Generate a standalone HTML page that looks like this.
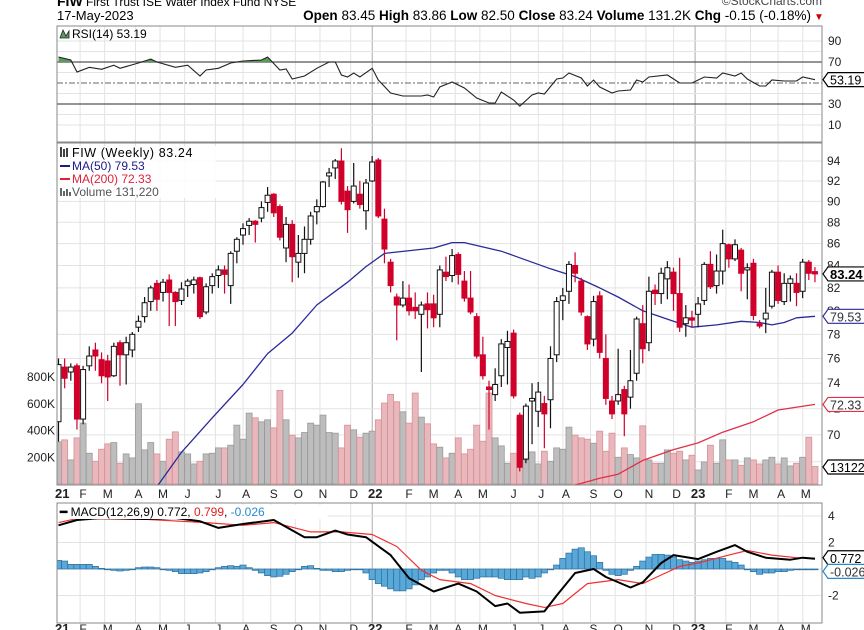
<!DOCTYPE html>
<html><head><meta charset="utf-8"><style>
html,body{margin:0;padding:0;background:#fff;width:864px;height:630px;overflow:hidden}
svg{display:block;font-family:"Liberation Sans",sans-serif}
</style></head><body>
<svg id="c" width="864" height="630" viewBox="0 0 864 630" xmlns="http://www.w3.org/2000/svg">
<g>
<text x="57" y="6" font-size="14" font-weight="bold" fill="#000">FIW</text>
<text x="86" y="6" font-size="12" fill="#000">First Trust ISE Water Index Fund NYSE</text>
<text x="822" y="5" font-size="12" fill="#444" text-anchor="end">©StockCharts.com</text>
<text x="57" y="20" font-size="13" fill="#000">17-May-2023</text>
<text x="811" y="20" font-size="13.5" fill="#000" text-anchor="end"><tspan font-weight="bold">Open</tspan> 83.45 <tspan font-weight="bold">High</tspan> 83.86 <tspan font-weight="bold">Low</tspan> 82.50 <tspan font-weight="bold">Close</tspan> 83.24 <tspan font-weight="bold">Volume</tspan> 131.2K <tspan font-weight="bold">Chg</tspan> -0.15 (-0.18%)</text>
<text x="814" y="20" font-size="10" fill="#c00">▼</text>
</g>
<g id="grid"></g>
<g id="rsi"></g>
<g id="main"></g>
<g id="macd"></g>
<g id="axes"></g>
</svg>
<script>
// ---------- data ----------
const opens=[71.0,75.3,74.9,75.4,71.2,75.4,76.7,75.9,75.8,74.6,77.3,76.3,76.7,78.6,79.5,80.8,82.4,81.6,82.7,81.6,80.9,82.2,82.3,82.9,79.9,82.2,83.1,83.6,82.2,85.3,86.8,87.7,88.1,88.4,89.9,90.7,89.5,85.6,87.8,84.3,85.1,86.4,89.0,89.5,92.5,93.3,94.0,91.0,90.0,90.7,89.1,92.0,94.1,88.3,84.3,81.2,80.5,81.1,80.3,79.7,80.6,80.6,79.7,83.4,83.1,85.0,82.6,81.1,79.5,76.3,73.7,73.1,74.6,76.9,78.1,71.5,68.2,72.6,71.8,72.4,72.7,76.3,80.9,81.7,84.0,82.6,79.5,77.6,81.3,76.0,72.6,72.6,73.5,72.9,74.8,78.9,77.3,81.8,81.5,82.8,83.4,81.5,78.9,79.4,79.7,80.9,84.1,82.2,83.5,85.9,84.6,85.4,83.6,84.2,78.9,79.3,80.4,83.4,80.8,82.4,82.4,81.7,84.3,83.45];
const highs=[76.0,76.0,75.6,75.6,75.4,77.0,77.3,76.5,76.3,77.3,77.5,77.8,78.2,79.6,81.2,82.2,82.7,82.8,83.2,81.7,82.5,82.8,83.0,83.0,82.4,83.3,84.0,84.0,85.3,86.6,87.9,88.4,88.2,90.0,91.4,90.8,89.7,88.5,88.2,86.8,87.6,89.0,90.2,92.0,93.3,94.2,95.3,91.5,93.8,92.0,92.2,94.5,94.3,89.3,84.6,81.5,82.6,82.3,81.6,80.8,81.6,81.4,84.0,84.8,85.5,85.2,83.5,83.5,79.8,77.8,74.2,75.2,77.6,78.3,78.4,71.7,72.4,74.0,74.1,73.0,77.0,81.2,82.0,84.4,85.2,82.9,79.6,81.3,81.7,78.0,73.0,76.8,73.8,76.7,79.5,80.5,83.0,82.3,83.8,84.4,83.8,84.7,80.5,80.0,81.2,84.3,85.3,85.0,87.3,86.0,86.4,85.6,84.2,84.6,79.2,82.0,83.6,84.0,83.3,83.1,83.3,84.6,84.5,83.86];
const lows=[69.5,73.6,74.2,70.4,70.8,75.0,75.0,74.0,72.6,74.5,73.8,73.9,76.1,78.2,79.0,80.0,80.0,80.8,78.7,78.7,80.5,81.2,81.5,79.3,79.7,81.5,82.0,81.5,80.6,84.2,85.9,86.8,86.1,88.0,89.0,88.5,86.3,84.3,82.5,82.9,83.3,85.9,87.8,89.4,91.4,92.2,89.7,87.0,89.8,89.3,87.3,91.9,88.4,84.2,81.6,77.5,80.3,79.6,79.3,74.9,78.5,78.6,78.6,82.6,82.5,82.3,80.8,79.7,76.0,74.3,70.4,72.6,73.7,73.9,72.8,67.3,67.9,69.3,70.6,69.0,70.5,75.7,79.2,80.6,82.5,79.6,76.7,77.0,76.0,72.3,71.2,72.3,69.9,72.0,74.2,75.6,76.6,80.5,80.6,81.0,80.0,78.2,77.8,78.6,78.6,80.5,81.9,81.5,82.3,83.8,84.4,81.7,81.0,79.2,78.5,78.1,80.2,80.6,80.5,80.8,80.4,81.1,82.7,82.50];
const closes=[75.5,74.4,75.3,71.2,75.1,76.2,76.2,74.6,74.5,77.0,76.3,77.3,78.0,79.1,80.7,82.0,81.0,82.5,81.6,80.8,81.9,82.6,82.7,79.5,82.1,83.0,83.6,83.2,85.1,86.4,87.4,88.1,87.8,89.4,90.6,88.9,86.6,87.8,84.8,85.1,86.4,88.6,89.5,91.9,92.8,94.0,90.0,89.2,91.5,89.7,91.8,93.9,88.6,85.5,82.2,80.5,81.1,80.0,80.0,80.5,80.1,79.4,83.6,83.0,84.9,83.2,81.1,79.9,76.2,74.6,73.5,73.9,77.2,77.4,73.0,67.6,72.2,72.8,73.3,71.6,76.0,80.8,81.3,84.1,83.3,79.9,77.2,80.8,76.5,72.8,71.6,73.1,71.6,74.2,79.3,76.8,81.7,81.5,83.3,83.8,81.5,78.6,79.4,79.2,80.6,84.1,82.1,83.5,86.0,84.6,85.9,83.3,83.8,79.6,78.7,79.8,83.4,80.9,82.4,82.8,81.6,84.3,83.3,83.24];
const volumesK=[315,330,180,345,455,230,170,260,300,310,155,225,195,600,255,310,225,170,335,390,240,225,150,170,225,230,270,270,290,440,335,530,495,465,480,420,700,480,365,345,385,455,440,515,385,380,270,440,405,350,380,395,480,605,670,615,540,455,680,500,450,300,275,195,230,345,225,260,440,320,680,345,285,155,230,500,180,240,150,245,170,270,260,425,365,345,335,305,395,245,380,200,270,220,195,435,180,155,155,255,230,245,180,215,105,165,290,155,330,180,180,140,195,180,150,180,200,150,195,135,155,200,350,131];
const ma50Week=[16,20,25,30,34,38,42,47,50,53,61,64,66,72,75,80,84,88,91,95,100,103,107,111,114,116,118,120,123];
const ma50Val=[66.2,68.7,71.3,73.9,76.4,78.1,80.5,82.5,83.9,85.1,85.6,86.1,86.1,85.3,84.7,83.7,83.0,82.0,81.2,80.0,79.1,78.6,78.8,79.1,79.0,78.8,79.0,79.4,79.53];
const ma200Week=[83,88,91,95,100,104,108,113,117,123];
const ma200Val=[66.2,66.8,67.1,68.1,68.9,69.4,70.2,71.0,71.9,72.33];
const rsiWeek=[0,2,3,5,7,9,10,13,15,16,19,21,23,24,26,28,30,33,34,36,37,38,40,42,44,45,46,47,48,49,51,52,54,56,59,60,61,62,64,66,68,70,71,72,74,75,77,78,79,81,82,83,85,86,87,88,90,91,93,94,95,96,99,101,103,105,107,108,110,111,112,114,115,116,118,120,121,123];
const rsiVal=[74.8,71.9,60.5,65,63,67,64,69,72.8,70,65,67,56.7,62.4,64,69,71,71.9,74.8,62.4,63.3,53.8,56.7,64,70,70,57.6,55.7,59.5,55.7,64,52.9,40.5,37.6,37.6,38.6,36.7,46.2,51,45.2,35.7,31,31,41.4,33.8,28,38.6,40.5,39.5,53.8,54.8,59.5,54.8,47.1,52.9,46.2,40.5,42.4,43.3,52.9,51,55.7,57.6,50,50,55.7,54.8,59.5,56.7,59.5,53.8,47.1,47.1,52.9,51.9,51.9,55.7,53.19];
const macdWeek=[0,3,7,14,19,23,26,30,35,40,42,45,47,50,54,57,61,65,68,71,73,75,79,81,84,87,89,93,95,98,100,104,107,110,112,115,119,121,123];
const macdVal=[3.3,3.7,3.85,3.77,3.85,3.6,3.1,3.4,3.7,2.4,2.4,2.9,2.6,2.4,1.05,-0.7,-1.7,-1.1,-1.7,-2.8,-2.6,-3.3,-3.2,-2.0,-0.3,0,-0.6,-1.4,-1.0,0.45,1.05,0.75,1.3,1.8,1.3,0.85,0.7,0.85,0.772];
const sigWeek=[0,3,14,24,30,35,41,46,51,55,59,62,67,71,76,79,82,86,91,95,98,101,104,109,112,116,120,123];
const sigVal=[3.5,3.8,3.75,3.5,3.3,3.5,2.8,2.8,2.6,1.7,-0.1,-0.8,-1.1,-2.0,-2.6,-2.9,-2.6,-1.1,-0.8,-1.1,-0.45,0.2,0.45,1.05,1.4,1.05,0.85,0.799];
const histVal=[0.65,0.6,0.35,0.35,0.35,0.35,0.2,0.05,-0.05,-0.1,-0.15,-0.1,0,0.1,0.15,0.15,0.1,0,-0.1,-0.2,-0.35,-0.35,-0.35,-0.3,-0.2,-0.05,0.1,0.2,0.25,0.2,0.3,0.1,-0.1,-0.3,-0.5,-0.6,-0.55,-0.4,-0.2,0,0.2,0.25,0.05,-0.1,-0.1,-0.2,-0.2,-0.1,0,0,-0.3,-0.8,-1.1,-1.3,-1.5,-1.65,-1.65,-1.5,-1.2,-0.8,-0.6,-0.3,-0.1,-0.1,-0.3,-0.6,-0.8,-0.8,-0.7,-0.6,-0.6,-0.6,-0.7,-0.8,-0.8,-0.8,-0.6,-0.7,-0.6,-0.3,0,0.3,0.8,1.2,1.5,1.6,1.3,1.0,0.5,-0.1,-0.4,-0.5,-0.4,-0.1,0.2,0.6,0.9,1.1,1.1,1.05,0.9,0.7,0.6,0.5,0.6,0.7,0.8,0.8,0.8,0.6,0.5,0.3,0,-0.2,-0.4,-0.3,-0.3,-0.2,-0.2,-0.1,-0.05,-0.03,-0.03,-0.026];
const monthLabels=["F","M","A","M","J","J","A","S","O","N","D","22","F","M","A","M","J","J","A","S","O","N","D","23","F","M","A","M"];
const monthWeek=[4,8,13,17,21,26,30.5,35,39,43,48,51.5,57,61,65,69,74,78.5,82.5,87,91,96,100.5,104,109,113,117.5,121.5];
const priceTicks=[94,92,90,88,86,84,82,80,78,76,74,72,70];
const rsiTicks=[90,70,30,10];
const macdTicks=[4,2,-2];
const volTicks=[800,600,400,200];

// ---------- scales ----------
const L=57,R=822;
const xw=i=>58.5+6.15*i;
const yP=p=>161+929*Math.log(94/p);
const yV=k=>484-k*0.13375;
const yR=r=>83-(r-50)*1.05;
const yM=m=>569-m*13.25;
const NS="http://www.w3.org/2000/svg";
function mk(parent,tag,attrs){const e=document.createElementNS(NS,tag);for(const k in attrs)e.setAttribute(k,attrs[k]);parent.appendChild(e);return e;}
const grid=document.getElementById('grid'),rsiG=document.getElementById('rsi'),mainG=document.getElementById('main'),macdG=document.getElementById('macd'),axes=document.getElementById('axes');

const defs=mk(document.getElementById('c'),'defs',{});
const cpM=mk(defs,'clipPath',{id:'clipMain'});mk(cpM,'rect',{x:L,y:143,width:R-L,height:342});
const cpR=mk(defs,'clipPath',{id:'clipRsiHi'});mk(cpR,'rect',{x:L,y:26,width:R-L,height:yR(70)-26});
const cpMa=mk(defs,'clipPath',{id:'clipMacd'});mk(cpMa,'rect',{x:L,y:503,width:R-L,height:120});

const panels=[[26,142],[143,485],[503,623]];
panels.forEach(([t,b],pi)=>{
  monthWeek.forEach((w,k)=>{
    const yr=monthLabels[k]==="22"||monthLabels[k]==="23";
    const ln=mk(grid,'line',{x1:xw(w)-3,x2:xw(w)-3,y1:t,y2:b,stroke:yr?'#aaa':'#e3e3e3','stroke-width':1});
    
    
  });
});
[10,20,40,60,80,90].forEach(v=>{const l=mk(grid,'line',{x1:L,x2:R,y1:yR(v),y2:yR(v),stroke:'#e3e3e3'});});
priceTicks.concat([68]).forEach(p=>{const l=mk(grid,'line',{x1:L,x2:R,y1:yP(p),y2:yP(p),stroke:'#e3e3e3'});});
[4,2,0,-2].forEach(m=>{const l=mk(grid,'line',{x1:L,x2:R,y1:yM(m),y2:yM(m),stroke:'#e3e3e3'});});
panels.forEach(([t,b])=>{const r=mk(axes,'rect',{x:L,y:t,width:R-L,height:b-t,fill:'none',stroke:'#888'});});

// ---------- RSI ----------
[70,30].forEach(v=>{const l=mk(rsiG,'line',{x1:L,x2:R,y1:yR(v),y2:yR(v),stroke:'#555','stroke-width':1.2});});
const l50=mk(rsiG,'line',{x1:L,x2:R,y1:yR(50),y2:yR(50),stroke:'#666','stroke-dasharray':'6,2,2,2'});


const rpts=rsiWeek.map((w,k)=>xw(w).toFixed(1)+','+yR(rsiVal[k]).toFixed(1));
const rfill=mk(rsiG,'polygon',{points:xw(rsiWeek[0])+','+yR(70)+' '+rpts.join(' ')+' '+xw(rsiWeek[rsiWeek.length-1])+','+yR(70),fill:'#5a9a5a','clip-path':'url(#clipRsiHi)'});


const rline=mk(rsiG,'polyline',{points:rpts.join(' '),fill:'none',stroke:'#222','stroke-width':1.1});


const rleg=mk(rsiG,'text',{x:72,y:38,'font-size':12,fill:'#000'});rleg.textContent='RSI(14) 53.19';


const ricon=mk(rsiG,'path',{d:'M60 38 L63 30 L66 36 L69 31 L69 38 Z',fill:'#5a9a5a',stroke:'#222','stroke-width':0.8});



// ---------- main ----------
const mg=mk(mainG,'g',{'clip-path':'url(#clipMain)'});
volumesK.forEach((v,i)=>{
  const down=closes[i]<opens[i];
  const b=mk(mg,'rect',{x:xw(i)-3,y:yV(v),width:6,height:484-yV(v),fill:down?'#e8b8bc':'#bdbdbd',stroke:down?'#d99098':'#9a9a9a','stroke-width':0.8});
  
  
});
function line(g,ws,vs,fy,col,name,w){const p=mk(g,'polyline',{points:ws.map((wk,k)=>xw(wk).toFixed(1)+','+fy(vs[k]).toFixed(1)).join(' '),fill:'none',stroke:col,'stroke-width':w,'stroke-linejoin':'round'});return p;}
line(mg,ma50Week,ma50Val,yP,'#2a2a9a','ma50-line',1.3);
line(mg,ma200Week,ma200Val,yP,'#e03048','ma200-line',1.3);
closes.forEach((c,i)=>{
  const o=opens[i],down=c<o,x=xw(i);
  const col=down?'#d0002a':'#111';
  const wk=mk(mg,'line',{x1:x,x2:x,y1:yP(highs[i]),y2:yP(lows[i]),stroke:col,'stroke-width':1.2});
  
  
  const top=yP(Math.max(o,c)),h=Math.max(1.5,Math.abs(yP(o)-yP(c)));
  const bd=mk(mg,'rect',{x:x-2.5,y:top,width:5,height:h,fill:down?'#d0002a':'#fff',stroke:down?'#d0002a':'#111','stroke-width':1});
  
  
});
const lg=mk(mainG,'g',{});


const lbg=mk(lg,'rect',{x:58,y:146,width:158,height:52,fill:'#fff','fill-opacity':0.85});


[['FIW (Weekly) 83.24','#000',157,'legend-price'],['MA(50) 79.53','#1a1a8a',170,'legend-ma50'],['MA(200) 72.33','#e0203a',183,'legend-ma200'],['Volume 131,220','#555',196,'legend-volume']].forEach(([t,c,y,n],k)=>{
  const tx=mk(lg,'text',{x:72,y:y,'font-size':k==0?12.5:12,fill:c,'letter-spacing':k==0?0.6:0});tx.textContent=t;
  
  
  if(k==1||k==2){const s=mk(lg,'line',{x1:60,x2:70,y1:y-4,y2:y-4,stroke:c,'stroke-width':2});}
});
const ic1=mk(lg,'path',{d:'M61 147v10M64 149v8M67 148v9',stroke:'#000','stroke-width':1.5});


const ic2=mk(lg,'path',{d:'M61 188v8M64 191v5M67 189v7M70 192v4',stroke:'#666','stroke-width':2});



// ---------- MACD ----------
const mcg=mk(macdG,'g',{'clip-path':'url(#clipMacd)'});
histVal.forEach((h,i)=>{
  const y0=yM(0),y1=yM(h);
  const b=mk(mcg,'rect',{x:xw(i)-3.07,y:Math.min(y0,y1),width:6.15,height:Math.max(0.8,Math.abs(y1-y0)),fill:'#5aa8d8',stroke:'#2a6e9e','stroke-width':0.7});
  
  
});
line(mcg,sigWeek,sigVal,yM,'#f03030','macd-signal-line',1.2);
line(mcg,macdWeek,macdVal,yM,'#000','macd-line',2);
const mbg=mk(macdG,'rect',{x:58,y:505,width:270,height:14,fill:'#fff'});


const mleg=mk(macdG,'text',{x:60,y:516,'font-size':12,fill:'#000'});


mleg.innerHTML='<tspan font-weight="bold">━</tspan> MACD(12,26,9) 0.772, <tspan fill="#e02020">0.799</tspan>, <tspan fill="#2a8ac8">-0.026</tspan>';

// ---------- axes ----------
function lab(x,y,t,name,opts){const e=mk(axes,'text',Object.assign({x:x,y:y,'font-size':12,fill:'#222'},opts||{}));e.textContent=t;return e;}
priceTicks.forEach(p=>lab(827,yP(p)+4,String(p),'price-tick-label'));
rsiTicks.forEach(v=>lab(828,yR(v)+4,String(v),'rsi-tick-label'));
macdTicks.forEach(v=>lab(828,yM(v)+4,String(v),'macd-tick-label'));
volTicks.forEach(v=>lab(55,yV(v)+4,v+'K','volume-tick-label',{'text-anchor':'end'}));
[[493],[628]].forEach(([y])=>{
  lab(L-2,y+5,'21','year-label',{'font-weight':'bold','font-size':13});
  monthLabels.forEach((m,k)=>{
    const yr=m==="22"||m==="23";
    lab(xw(monthWeek[k]),y+5,m,yr?'year-label':'month-label',{'text-anchor':'middle','font-weight':yr?'bold':'normal','font-size':yr?13:12});
  });
});
function tag(y,t,col,name,bold){
  const g=mk(axes,'g',{});
  
  
  const w=bold?44:40;
  mk(g,'path',{d:`M823 ${y} L828 ${y-7} L${828+w} ${y-7} L${828+w} ${y+7} L828 ${y+7} Z`,fill:'#fff',stroke:col,'stroke-width':1.2});
  const tx=mk(g,'text',{x:830,y:y+5,'font-size':bold?13:12.5,'font-weight':bold?'bold':'normal',fill:col==='#000'?'#000':'#333'});
  tx.textContent=t;
}
tag(yR(53.19),'53.19','#000','rsi-value-tag');
tag(yP(83.24),'83.24','#000','close-value-tag',true);
tag(yP(79.53),'79.53','#2a2a9a','ma50-value-tag');
tag(yP(72.33),'72.33','#e03048','ma200-value-tag');
tag(467,'13122','#000','volume-value-tag');
tag(yM(0.772)-1,'0.772','#000','macd-value-tag');
tag(yM(-0.026)+2,'-0.026','#2a8ac8','macd-hist-value-tag');
</script>
</body></html>
